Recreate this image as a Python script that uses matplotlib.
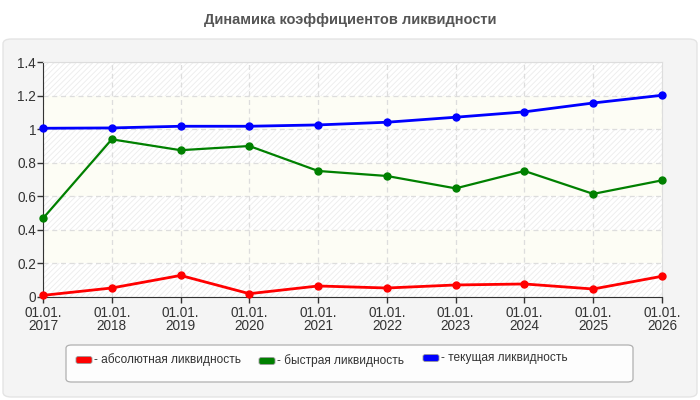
import matplotlib.pyplot as plt
from matplotlib.patches import FancyBboxPatch

plt.rcParams['font.family'] = ['Liberation Sans', 'DejaVu Sans']
plt.rcParams['hatch.linewidth'] = 0.6
plt.rcParams['hatch.color'] = '#e8e8e8'

years = ['2017', '2018', '2019', '2020', '2021', '2022', '2023', '2024', '2025', '2026']
absolute = [0.008, 0.052, 0.127, 0.018, 0.064, 0.052, 0.070, 0.076, 0.046, 0.122]
quick = [0.468, 0.940, 0.875, 0.900, 0.751, 0.721, 0.647, 0.751, 0.614, 0.695]
current = [1.006, 1.008, 1.018, 1.018, 1.026, 1.042, 1.072, 1.104, 1.157, 1.203]

series_names = ['- абсолютная ликвидность', '- быстрая ликвидность', '- текущая ликвидность']
colors = ['#ff0000', '#008000', '#0000ff']
widths = [2.0, 1.6, 2.0]

W, H = 700, 400
fig = plt.figure(figsize=(7, 4), dpi=100, facecolor='white')

# outer grey panel
panel = FancyBboxPatch((3 / W, 3 / H), 694 / W, 358 / H,
                       boxstyle='round,pad=0,rounding_size=0.012',
                       transform=fig.transFigure, facecolor='#f4f4f4',
                       edgecolor='#e4e4e4', linewidth=1, zorder=-5)
fig.patches.append(panel)

fig.text(0.5, 1 - 20 / H, 'Динамика коэффициентов ликвидности', ha='center', va='center',
         fontsize=10.5, fontweight='bold', color='#555555')

ax = fig.add_axes([43 / W, 103.3 / H, 619 / W, 234.4 / H])
ax.set_zorder(2)
ax.set_facecolor('white')
x = list(range(len(years)))

# banded, hatched background
for i in range(7):
    lo, hi = i * 0.2, (i + 1) * 0.2
    if i % 2 == 0:
        ax.axhspan(lo, hi, facecolor='white', hatch='//////', edgecolor='#ececec',
                   linewidth=0, zorder=0)
    else:
        ax.axhspan(lo, hi, facecolor='#fdfdf5', linewidth=0, zorder=0)

for vals, c, lw in zip([absolute, quick, current], colors, widths):
    ax.plot(x, vals, color=c, linewidth=lw, marker='o', markersize=5, zorder=3, clip_on=False)

ax.set_xlim(0, len(years) - 1)
ax.set_ylim(0, 1.4)
ax.set_yticks([0, 0.2, 0.4, 0.6, 0.8, 1.0, 1.2, 1.4])
ax.set_yticklabels(['0', '0.2', '0.4', '0.6', '0.8', '1', '1.2', '1.4'])
ax.set_xticks(x)
ax.set_xticklabels(['01.01.\n' + y for y in years], linespacing=0.95)
ax.tick_params(labelsize=9.8, colors='#333333', length=4, width=1, pad=1)
ax.tick_params(axis='x', pad=2.5)
ax.grid(True, color='#dddddd', linestyle=(0, (4, 3)), linewidth=0.9, zorder=1)
ax.set_axisbelow(True)

for s in ['top', 'right']:
    ax.spines[s].set_color('#dddddd')
for s in ['left', 'bottom']:
    ax.spines[s].set_color('#333333')

# legend box
leg = FancyBboxPatch((66 / W, (H - 382) / H), 567 / W, 37 / H,
                     boxstyle='round,pad=0,rounding_size=0.008',
                     transform=fig.transFigure, facecolor='#fdfdfd',
                     edgecolor='#b0b0b0', linewidth=0.9, zorder=2)
fig.patches.append(leg)

entry_x = [76, 259, 423]
entry_y = [360, 361, 358]
for ex, ey, c, name in zip(entry_x, entry_y, colors, series_names):
    sw = FancyBboxPatch((ex / W, (H - ey - 3.5) / H), 16 / W, 7 / H,
                        boxstyle='round,pad=0,rounding_size=0.004',
                        transform=fig.transFigure, facecolor=c,
                        edgecolor='#999999', linewidth=0.6, zorder=3)
    fig.patches.append(sw)
    fig.text((ex + 18) / W, 1 - ey / H, name, ha='left', va='center',
             fontsize=8.6, color='#333333', zorder=4)

fig.savefig('out.png', dpi=100, facecolor=fig.get_facecolor())
